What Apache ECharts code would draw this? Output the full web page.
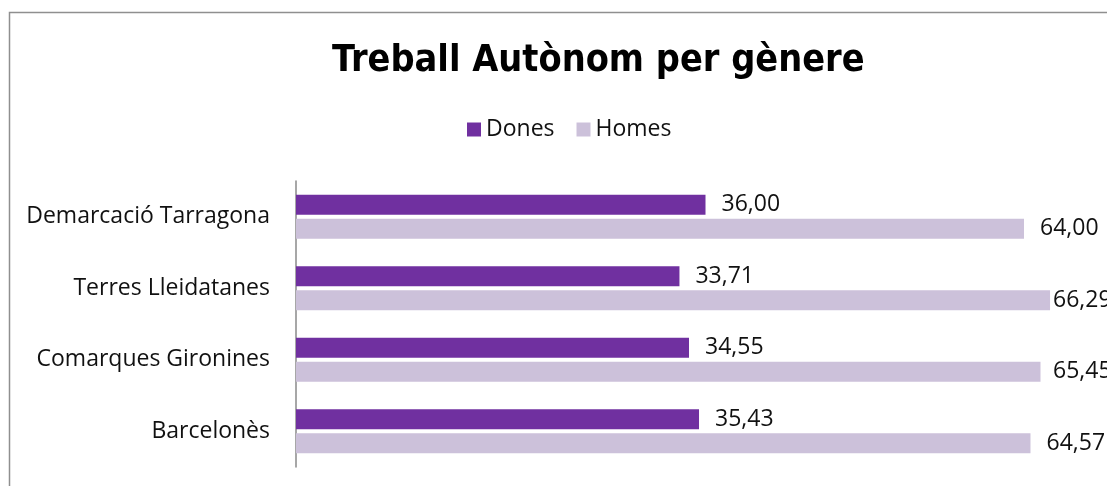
<!DOCTYPE html>
<html>
<head>
<meta charset="utf-8">
<script src="https://cdn.jsdelivr.net/npm/echarts@6/dist/echarts.min.js"></script>
<style>
  html, body { margin: 0; padding: 0; background: #fff; }
  #chart { width: 1107px; height: 486px; }
</style>
</head>
<body>
<div id="chart"></div>
<script>
// categories top to bottom
const categories = ['Demarcació Tarragona', 'Terres Lleidatanes', 'Comarques Gironines', 'Barcelonès'];
const dones = [36.00, 33.71, 34.55, 35.43];
const homes = [64.00, 66.29, 65.45, 64.57];
const seriesNames = ['Dones', 'Homes'];

const chart = echarts.init(document.getElementById('chart'));

const fmt = v => v.toFixed(2).replace('.', ',');
const labelFont = '"Open Sans", sans-serif';

const barLabel = {
  show: true,
  position: 'right',
  distance: 16,
  color: '#111',
  fontSize: 23,
  fontFamily: labelFont,
  formatter: p => fmt(p.value)
};

const option = {
  backgroundColor: '#fff',
  animation: false,
  title: {
    text: 'Treball Autònom per gènere',
    left: 327,
    top: 37,
    textStyle: {
      fontFamily: '"DejaVu Sans Condensed", "DejaVu Sans", sans-serif',
      fontWeight: 'bold',
      fontSize: 37.5,
      color: '#000'
    }
  },
  legend: {
    left: 462,
    top: 113,
    itemWidth: 14,
    itemHeight: 14,
    itemGap: 22,
    icon: 'rect',
    textStyle: { fontFamily: labelFont, fontSize: 23, color: '#111' },
    data: seriesNames
  },
  graphic: [{
    type: 'rect',
    shape: { x: 9.5, y: 12.5, width: 1300, height: 600 },
    style: { fill: 'none', stroke: '#8f8f8f', lineWidth: 1.5 },
    silent: true
  }],
  grid: { left: 296, right: 14.75, top: 181, bottom: 19 },
  xAxis: {
    type: 'value',
    min: 0,
    max: 70,
    show: false
  },
  yAxis: {
    type: 'category',
    inverse: true,
    data: categories,
    axisLine: { show: true, lineStyle: { color: '#8a8a8a', width: 1.5 } },
    axisTick: { show: false },
    axisLabel: {
      margin: 26,
      color: '#111',
      fontSize: 23,
      fontFamily: labelFont
    }
  },
  series: [
    {
      name: seriesNames[0],
      type: 'bar',
      data: dones,
      barWidth: 20,
      barGap: '20%',
      itemStyle: { color: '#7030A0' },
      label: barLabel
    },
    {
      name: seriesNames[1],
      type: 'bar',
      data: homes,
      barWidth: 20,
      barGap: '20%',
      itemStyle: { color: '#CCC1DA' },
      label: barLabel,
      // keep labels near the right edge like the original
      labelLayout: p => p.labelRect.x > 1053 ? { dx: 1053 - p.labelRect.x } : {}
    }
  ]
};

chart.setOption(option);
</script>
</body>
</html>
